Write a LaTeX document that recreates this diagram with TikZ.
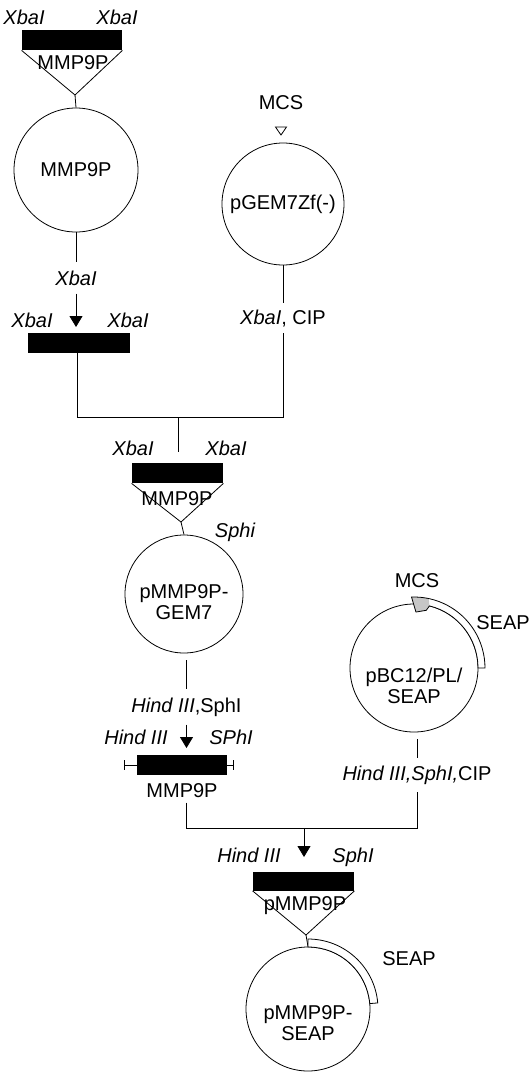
\documentclass[tikz,border=0pt]{standalone}
\usepackage{fontspec}
\setmainfont{Liberation Sans}
\usetikzlibrary{arrows.meta}
\begin{document}
\begin{tikzpicture}[x=1pt,y=1pt,line width=0.8pt,
  txt/.style={font=\fontsize{20}{21}\selectfont, inner sep=0pt},
  enz/.style={font=\fontsize{20}{21}\selectfont\itshape, inner sep=0pt},
  cut/.style={inner ysep=#1, inner xsep=0pt},
  plasmid/.style={circle, draw, minimum size=#1, inner sep=0pt, font=\fontsize{20}{21}\selectfont, align=center},
  inlab/.style={font=\fontsize{20}{21}\selectfont, align=center, inner sep=0pt},
  insert/.style={fill=black, inner sep=0pt, minimum height=20pt, minimum width=#1},
  arr/.style={-{Triangle[width=13pt,length=11pt]}},
  band/.style={draw, fill=white},
]
\path[use as bounding box] (0,0) rectangle (529,-1072);

% ---------- MMP9P insert and plasmid ----------
\node[enz, anchor=base] (xa1) at (24,-24) {XbaI};
\node[enz, anchor=base] (xa2) at (117,-24) {XbaI};
\node[insert=100pt] (b1) at (72,-40) {};
\coordinate (a1) at (75,-95);
\draw (b1.south west) -- (a1) -- (b1.south east);
\node[txt, anchor=base] (t1) at (73,-69) {MMP9P};
\node[plasmid=124pt] (c1) at (76,-170) {MMP9P};
\draw (a1) -- (c1.north);

% ---------- pGEM7Zf(-) ----------
\node[txt, anchor=base] (mcs1) at (281,-109) {MCS};
\coordinate (m1) at (281,-131);
\draw (m1) ++(-5.5,4) -- ++(11,0) -- ++(-5.5,-8) -- cycle;
\node[plasmid=122pt] (c2) at (283,-204) {pGEM7Zf(-)};

% ---------- XbaI digest of MMP9P ----------
\node[enz, cut=8pt, anchor=base] (e1) at (76,-285) {XbaI};
\draw (c1.south) -- (e1.north);
\coordinate (tip2) at (76,-327);
\draw[arr] (e1.south) -- (tip2);
\node[enz, anchor=base] (xb1) at (32,-327) {XbaI};
\node[enz, anchor=base] (xb2) at (128,-327) {XbaI};
\node[insert=102pt] (b2) at (79,-343) {};

% ---------- XbaI, CIP digest of pGEM ----------
\node[txt, cut=6pt, anchor=base] (e2) at (283,-324) {\itshape XbaI\upshape, CIP};
\draw (c2.south) -- (e2.north);

% ---------- ligation 1 ----------
\coordinate (j1) at (77,-417);
\coordinate (j2) at (283,-417);
\coordinate (j3) at (178,-417);
\coordinate (j4) at (178,-452);
\draw (b2.south -| j1) -- (j1) -- (j2) -- (e2.south);
\draw (j3) -- (j4);

% ---------- pMMP9P-GEM7 ----------
\node[enz, anchor=base] (xc1) at (133,-455) {XbaI};
\node[enz, anchor=base] (xc2) at (226,-455) {XbaI};
\node[insert=91pt] (b3) at (177.5,-473) {};
\coordinate (a3) at (181,-522);
\draw (b3.south west) -- (a3) -- (b3.south east);
\node[txt, anchor=base] (t3) at (177,-505) {MMP9P};
\node[plasmid=118pt, label={[inlab, yshift=-8pt]center:pMMP9P-\\GEM7}] (c3) at (184,-594) {};
\draw (a3) -- (c3.north);
\node[enz, anchor=base] (sp3) at (235,-537) {Sphi};

% ---------- HindIII/SphI digest ----------
\node[txt, cut=8pt, anchor=base] (e3) at (186.5,-712) {\itshape Hind III\upshape,SphI};
\draw[shorten <=7pt] (c3.south -| e3) -- (e3.north);
\coordinate (tip4) at (186.5,-748);
\draw[arr] (e3.south) -- (tip4);
\node[enz, anchor=base] (hd1) at (136,-744) {Hind III};
\node[enz, anchor=base] (hd2) at (231,-744) {SPhI};
\node[insert=90pt] (b4) at (182,-765) {};
\draw (b4.west) -- ++(-12,0) ++(0,5) -- ++(0,-10);
\draw (b4.east) -- ++(6,0) ++(0,5) -- ++(0,-10);
\node[txt, anchor=base] (t4) at (182,-797) {MMP9P};

% ---------- pBC12/PL/SEAP ----------
\node[txt, anchor=base] (mcs2) at (417,-587) {MCS};
\node[plasmid=128pt, label={[inlab, yshift=-18pt]center:pBC12/PL/\\SEAP}] (c4) at (414,-668) {};
\fill[white] ([shift={(92:71)}]c4.center) arc[start angle=92, end angle=0, radius=71pt]
  -- ([shift={(0:64)}]c4.center) arc[start angle=0, end angle=76, radius=64pt]
  -- ([shift={(78:59)}]c4.center) -- ([shift={(88:56)}]c4.center) -- cycle;
\fill[gray!45] ([shift={(92:71)}]c4.center) arc[start angle=92, end angle=78, radius=71pt]
  -- ([shift={(76:64)}]c4.center) -- ([shift={(78:59)}]c4.center) -- ([shift={(88:56)}]c4.center) -- cycle;
\draw ([shift={(92:71)}]c4.center) arc[start angle=92, end angle=0, radius=71pt]
  -- ([shift={(0:64)}]c4.center) arc[start angle=0, end angle=76, radius=64pt]
  -- ([shift={(78:59)}]c4.center) -- ([shift={(88:56)}]c4.center) -- cycle;
\node[txt, anchor=base] (seap1) at (503,-629) {SEAP};
\node[txt, cut=7pt, anchor=base] (e4) at (417,-780) {\itshape Hind III,SphI,\upshape CIP};
\draw[shorten <=7pt] (c4.south -| e4) -- (e4.north);

% ---------- ligation 2 ----------
\coordinate (k1) at (186.5,-828);
\coordinate (k2) at (417,-828);
\coordinate (k3) at (304,-828);
\draw ([yshift=-5pt]t4.south -| k1) -- (k1) -- (k2) -- (e4.south);
\coordinate (tip6) at (304,-857);
\draw[arr] (k3) -- (tip6);

% ---------- pMMP9P-SEAP ----------
\node[enz, anchor=base] (hd3) at (249,-862) {Hind III};
\node[enz, anchor=base] (hd4) at (353,-862) {SphI};
\node[insert=101pt, minimum height=19pt] (b5) at (303.5,-881) {};
\coordinate (a5) at (306,-935);
\draw (b5.south west) -- (a5) -- (b5.south east);
\node[txt, anchor=base] (t5) at (305,-910) {pMMP9P};
\node[plasmid=124pt, label={[inlab, yshift=-14pt]center:pMMP9P-\\SEAP}] (c5) at (308,-1009) {};
\draw (a5) -- (c5.north);
\draw[band] ([shift={(90:62)}]c5.center) arc[start angle=90, end angle=5, radius=62pt]
  -- ([shift={(5:70)}]c5.center) arc[start angle=5, end angle=90, radius=70pt] -- cycle;
\node[txt, anchor=base] (seap2) at (409,-965) {SEAP};
\end{tikzpicture}
\end{document}
